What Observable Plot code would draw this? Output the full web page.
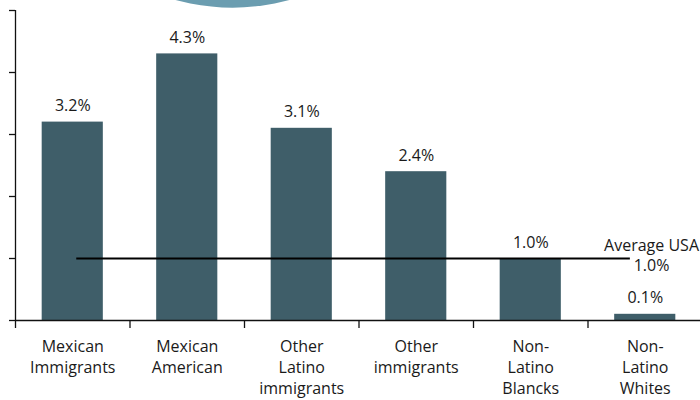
<!DOCTYPE html>
<html>
<head>
<meta charset="utf-8">
<script src="https://cdn.jsdelivr.net/npm/d3@7"></script>
<script src="https://cdn.jsdelivr.net/npm/@observablehq/plot@0.6"></script>
<style>
  html, body { margin: 0; padding: 0; background: #fff; }
  #chart svg { display: block; overflow: hidden; }
</style>
</head>
<body>
<div id="chart"></div>
<script>
const categories = [
  "Mexican\nImmigrants",
  "Mexican\nAmerican",
  "Other\nLatino\nimmigrants",
  "Other\nimmigrants",
  "Non-\nLatino\nBlancks",
  "Non-\nLatino\nWhites"
];
const values = [3.2, 4.3, 3.1, 2.4, 1.0, 0.1];
const valueLabels = ["3.2%", "4.3%", "3.1%", "2.4%", "1.0%", "0.1%"];
const averageUSA = 1.0;
const averageLabel = "Average USA\n1.0%";
const yTicks = [0, 1, 2, 3, 4, 5];
const xBoundaries = [0, 1, 2, 3, 4, 5];

const data = categories.map((c, i) => ({i, category: c, value: values[i], label: valueLabels[i]}));

const barColor = "#3f5e69";
const font = "'Open Sans', 'Noto Sans', sans-serif";
const halfBar = 0.267;

const plot = Plot.plot({
  width: 700,
  height: 400,
  marginTop: 10,
  marginBottom: 80,
  marginLeft: 15,
  marginRight: 0,
  style: {fontFamily: font, fontSize: "16px", color: "#1a1a1a", background: "#fff"},
  x: {type: "linear", domain: [0, 6], range: [15, 702], axis: null},
  y: {domain: [0, 5], range: [320, 10], axis: null},
  marks: [
    // decorative circle at top
    Plot.dot([{x: 1.895, y: 8.53}], {x: "x", y: "y", r: 216, fill: "#6b9db0", stroke: "none"}),
    Plot.rectY(data, {x1: d => d.i + 0.5 - halfBar, x2: d => d.i + 0.5 + halfBar, y: "value", fill: barColor}),
    Plot.ruleX([0], {y1: 0, y2: 5, stroke: "#111", strokeWidth: 1.3}),
    Plot.axisY({ticks: yTicks, tickSize: 6, tickFormat: () => "", label: null, stroke: "#111", strokeWidth: 1.3}),
    Plot.ruleY([0], {stroke: "#111", strokeWidth: 1.3}),
    Plot.axisX({ticks: xBoundaries, tickSize: 8, tickFormat: () => "", label: null, stroke: "#111", strokeWidth: 1.3}),
    Plot.text(data, {x: d => d.i + 0.5, y: 0, text: "category", lineAnchor: "top", dy: 16, fontSize: 16, lineHeight: 1.32, fill: "#1a1a1a"}),
    Plot.text(data, {x: d => d.i + 0.5, y: "value", text: "label", dy: -16, fontSize: 16, fill: "#1a1a1a"}),
    Plot.ruleY([averageUSA], {x1: 0.535, x2: 5.37, stroke: "#000", strokeWidth: 2}),
    Plot.text([averageUSA], {x: 5.555, y: d => d, text: () => averageLabel, dy: -4, fontSize: 16, lineHeight: 1.25, fill: "#1a1a1a"})
  ]
});
document.getElementById("chart").appendChild(plot);
</script>
</body>
</html>
